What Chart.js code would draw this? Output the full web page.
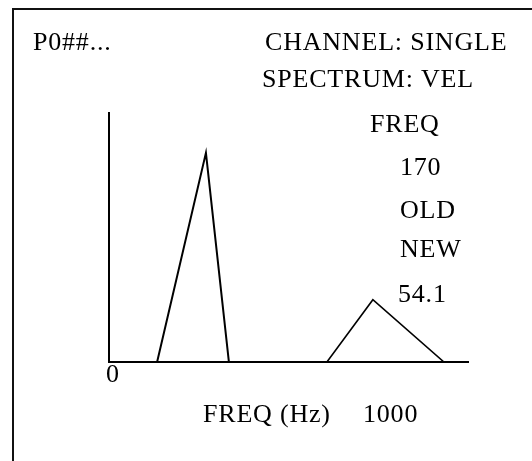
<!DOCTYPE html>
<html>
<head>
<meta charset="utf-8">
<script src="https://cdn.jsdelivr.net/npm/chart.js@4.4.1/dist/chart.umd.min.js"></script>
<style>
  html, body { margin: 0; padding: 0; background: #fff; }
  #wrap { width: 532px; height: 461px; position: relative; }
</style>
</head>
<body>
<div id="wrap"><canvas id="c"></canvas></div>
<script>
// Spectrum peaks (frequency in Hz, amplitude in % of full scale)
const peak1Freq = [134, 270, 334];
const peak1Amp  = [0, 84, 0];
const peak2Freq = [607, 735, 933];
const peak2Amp  = [0, 25, 0];

const xMin = 0, xMax = 1000;
const yMin = 0, yMax = 100;

// Text shown on the display
const headerLeft = 'P0##...';
const headerLines = ['CHANNEL: SINGLE', 'SPECTRUM: VEL'];
const sideLines = ['FREQ', '170', 'OLD', 'NEW', '54.1'];
const xAxisLabel = 'FREQ (Hz)';
const xMaxLabel = '1000';
const xMinLabel = '0';

function pts(xs, ys) { return xs.map((x, i) => ({ x: x, y: ys[i] })); }

const FONT = '26px "Liberation Serif", "Times New Roman", serif';

const textPlugin = {
  id: 'displayText',
  afterDraw(chart) {
    const ctx = chart.ctx;
    ctx.save();
    // frame
    ctx.strokeStyle = '#111';
    ctx.lineWidth = 2;
    ctx.beginPath();
    ctx.moveTo(13, 470);
    ctx.lineTo(13, 9);
    ctx.lineTo(540, 9);
    ctx.stroke();

    ctx.fillStyle = '#000';
    ctx.font = FONT;
    ctx.textBaseline = 'alphabetic';
    ctx.textAlign = 'left';
    try { ctx.letterSpacing = '0.8px'; } catch (e) {}
    ctx.fillText(headerLeft, 33, 50);
    ctx.fillText(headerLines[0], 265, 50);
    ctx.fillText(headerLines[1], 262, 87);
    const sx = [370, 400, 400, 400, 398];
    const sy = [132, 175, 218, 257, 302];
    sideLines.forEach((t, i) => ctx.fillText(t, sx[i], sy[i]));
    ctx.fillText(xAxisLabel, 203, 422);
    ctx.fillText(xMaxLabel, 363, 422);
    ctx.fillText(xMinLabel, 106, 382);
    ctx.restore();
  }
};

new Chart(document.getElementById('c'), {
  type: 'line',
  data: {
    datasets: [
      { data: pts(peak1Freq, peak1Amp), borderColor: '#000', borderWidth: 2, pointRadius: 0, tension: 0, fill: false },
      { data: pts(peak2Freq, peak2Amp), borderColor: '#000', borderWidth: 1.6, pointRadius: 0, tension: 0, fill: false }
    ]
  },
  options: {
    responsive: true,
    maintainAspectRatio: false,
    animation: false,
    devicePixelRatio: 1,
    layout: { padding: { left: 109, top: 113, right: 64, bottom: 99 } },
    plugins: { legend: { display: false }, tooltip: { enabled: false }, title: { display: false } },
    scales: {
      x: {
        type: 'linear', min: xMin, max: xMax,
        grid: { display: false, drawTicks: false },
        ticks: { display: false },
        border: { display: true, color: '#000', width: 2 }
      },
      y: {
        type: 'linear', min: yMin, max: yMax,
        grid: { display: false, drawTicks: false },
        ticks: { display: false },
        border: { display: true, color: '#000', width: 2 }
      }
    }
  },
  plugins: [textPlugin]
});
</script>
</body>
</html>
